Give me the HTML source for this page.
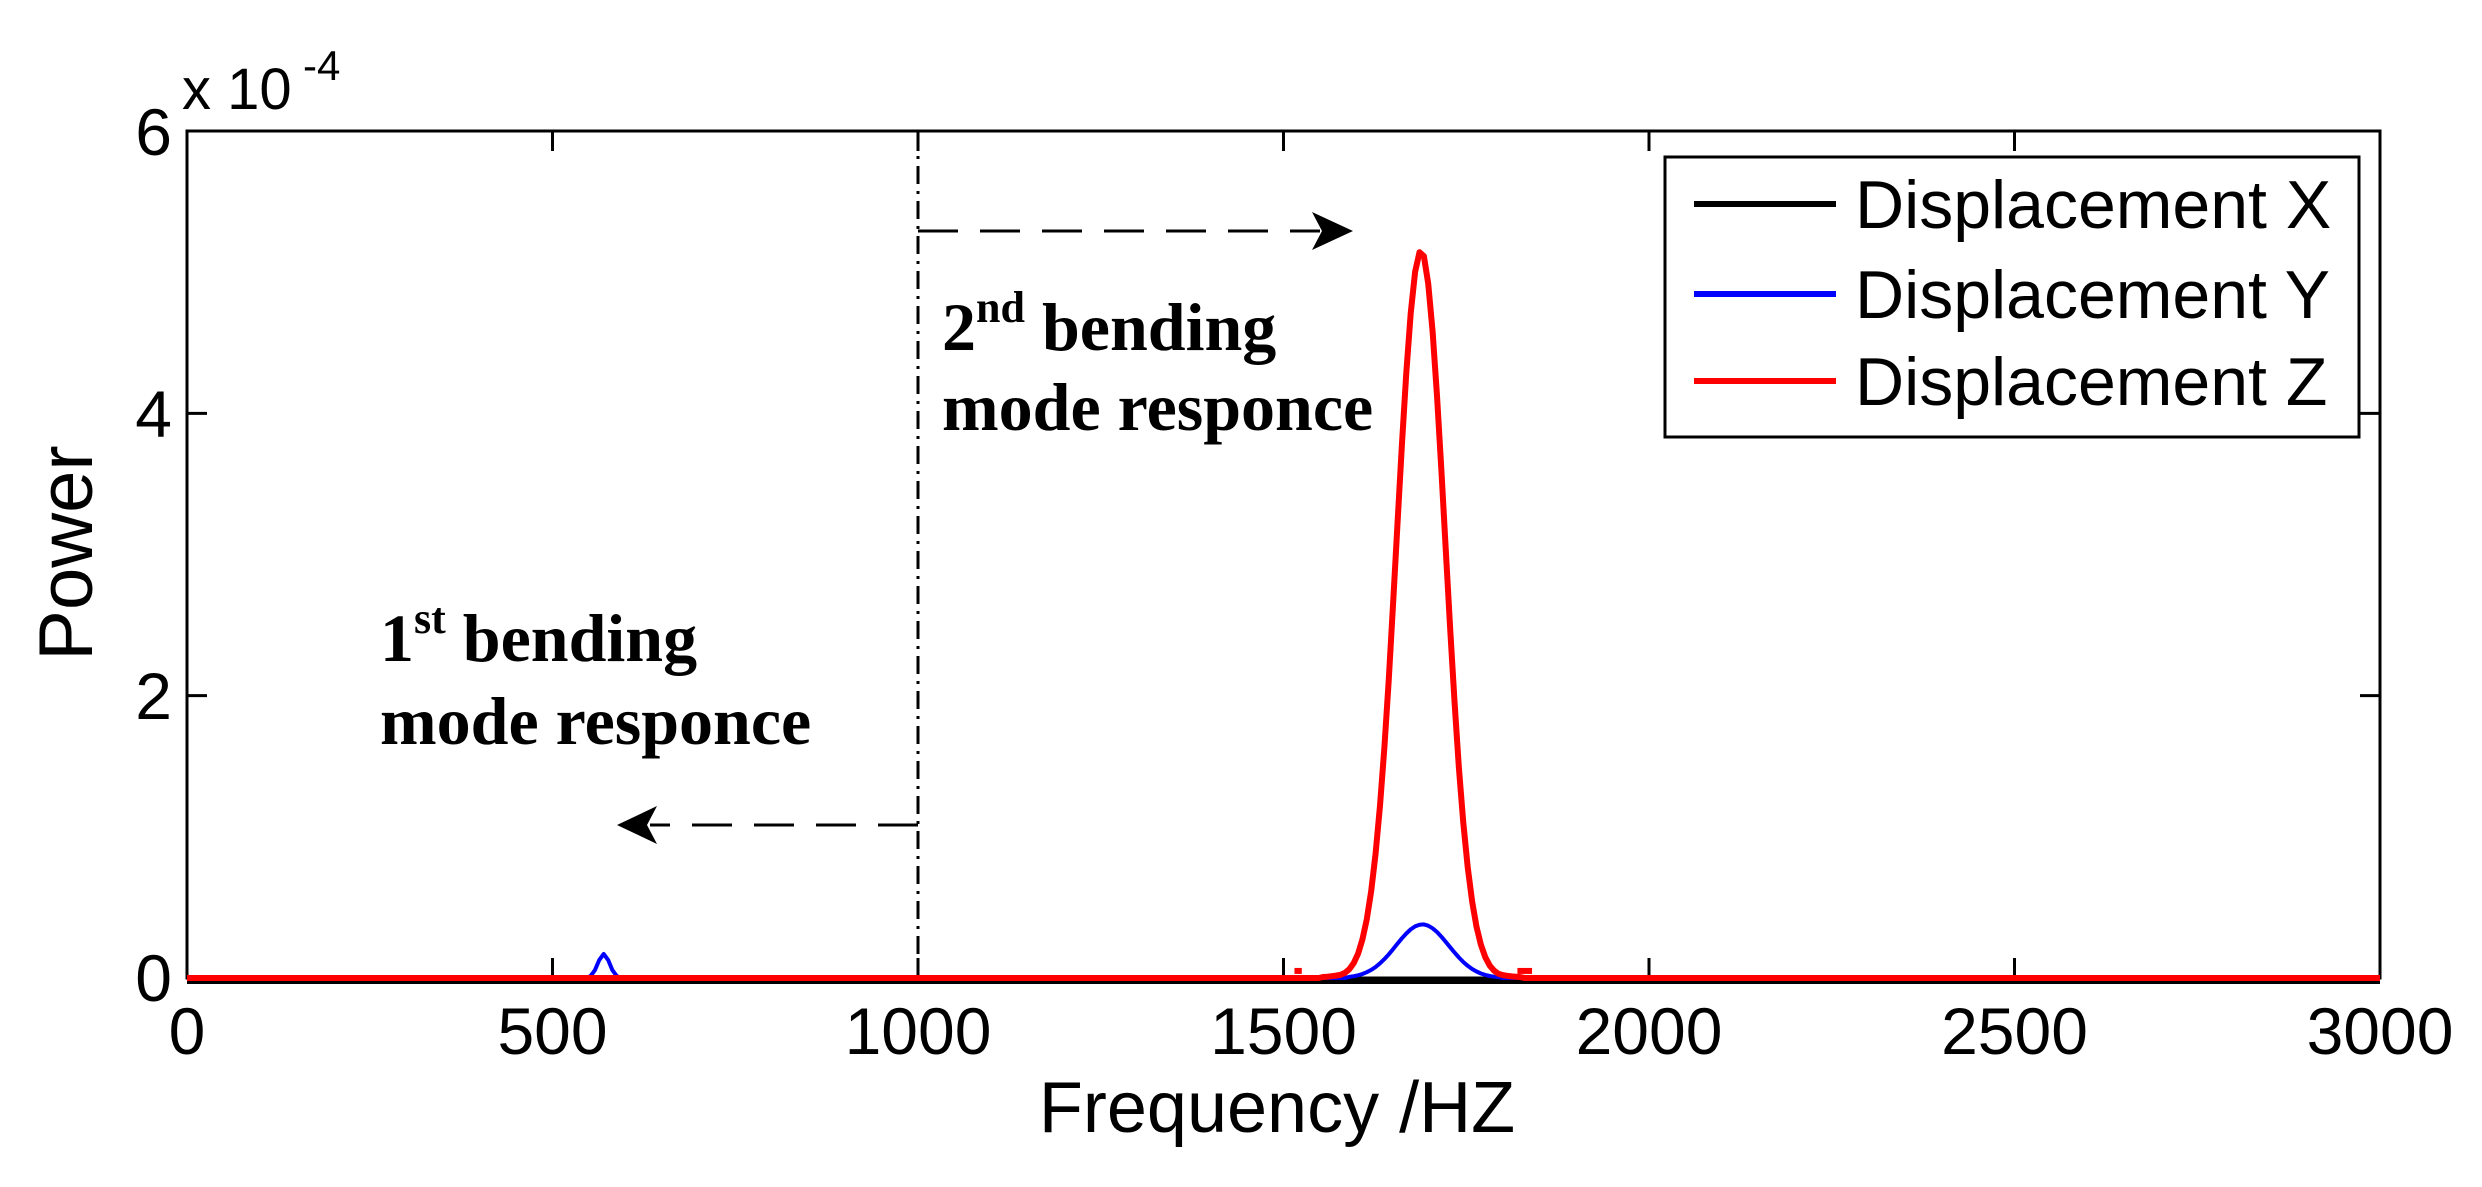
<!DOCTYPE html>
<html><head><meta charset="utf-8"><style>
html,body{margin:0;padding:0;background:#fff;}
svg{display:block;}
.t{font-family:"Liberation Sans",Arial,sans-serif;}
.s{font-family:"Liberation Serif","Times New Roman",serif;font-weight:bold;}
</style></head><body>
<svg id="c" width="2482" height="1187" viewBox="0 0 2482 1187" xmlns="http://www.w3.org/2000/svg">
<rect width="2482" height="1187" fill="#fff"/>
<rect x="187" y="131" width="2193" height="847" fill="none" stroke="#000" stroke-width="3"/>
<g stroke="#000" stroke-width="3">
<line x1="552.5" y1="978" x2="552.5" y2="958"/><line x1="918" y1="978" x2="918" y2="958"/><line x1="1283.5" y1="978" x2="1283.5" y2="958"/><line x1="1649" y1="978" x2="1649" y2="958"/><line x1="2014.5" y1="978" x2="2014.5" y2="958"/>
<line x1="552.5" y1="131" x2="552.5" y2="151"/><line x1="918" y1="131" x2="918" y2="151"/><line x1="1283.5" y1="131" x2="1283.5" y2="151"/><line x1="1649" y1="131" x2="1649" y2="151"/><line x1="2014.5" y1="131" x2="2014.5" y2="151"/>
<line x1="187" y1="695.6" x2="207" y2="695.6"/><line x1="187" y1="413.4" x2="207" y2="413.4"/>
<line x1="2380" y1="695.6" x2="2360" y2="695.6"/><line x1="2380" y1="413.4" x2="2360" y2="413.4"/>
</g>
<g class="t" font-size="66" fill="#000" text-anchor="middle">
<text x="187" y="1054">0</text><text x="552.5" y="1054">500</text><text x="918" y="1054">1000</text><text x="1283.5" y="1054">1500</text><text x="1649" y="1054">2000</text><text x="2014.5" y="1054">2500</text><text x="2380" y="1054">3000</text>
</g>
<g class="t" font-size="66" fill="#000" text-anchor="end">
<text x="172" y="1001">0</text><text x="172" y="719">2</text><text x="172" y="437">4</text><text x="172" y="155">6</text>
</g>
<text class="t" x="182" y="109" font-size="58">x 10</text>
<text class="t" x="303" y="80" font-size="42">-4</text>
<text class="t" x="1277" y="1132" font-size="72" text-anchor="middle">Frequency /HZ</text>
<text class="t" font-size="76" text-anchor="middle" transform="translate(92,553) rotate(-90)">Power</text>

<line x1="918" y1="131" x2="918" y2="978" stroke="#000" stroke-width="3" stroke-dasharray="18,7,3,7"/>
<line x1="918" y1="231" x2="1320" y2="231" stroke="#000" stroke-width="3" stroke-dasharray="40,22"/>
<path d="M1312,212 L1353,231 L1312,250 L1322,231 Z" fill="#000"/>
<line x1="918" y1="825" x2="650" y2="825" stroke="#000" stroke-width="3" stroke-dasharray="40,22"/>
<path d="M657,806 L617,825 L657,844 L647,825 Z" fill="#000"/>

<g class="s" font-size="68" fill="#000">
<text x="942" y="350">2<tspan font-size="44" dy="-28">nd</tspan><tspan dy="28"> bending</tspan></text>
<text x="942" y="430">mode responce</text>
<text x="380" y="661">1<tspan font-size="44" dy="-28">st</tspan><tspan dy="28"> bending</tspan></text>
<text x="380" y="744">mode responce</text>
</g>

<g id="curves"></g>

<rect x="1665" y="157" width="694" height="280" fill="#fff" stroke="#000" stroke-width="3"/>
<line x1="1694" y1="204" x2="1836" y2="204" stroke="#000" stroke-width="6"/>
<line x1="1694" y1="294" x2="1836" y2="294" stroke="#0000ff" stroke-width="6"/>
<line x1="1694" y1="381" x2="1836" y2="381" stroke="#ff0000" stroke-width="6"/>
<g class="t" font-size="68" fill="#000">
<text x="1855" y="228">Displacement X</text>
<text x="1855" y="318">Displacement Y</text>
<text x="1855" y="405">Displacement Z</text>
</g>
</svg>
<script>
(function(){
var g=document.getElementById('curves');
function X(f){return 187+f*0.731;}
function Y(v){return 978-v*141.2;}
function path(fn,a,b,step){var d='';for(var f=a;f<=b;f+=step){d+=(f===a?'M':'L')+X(f).toFixed(1)+','+Y(fn(f)).toFixed(1);}return d;}
function gs(c,s,h){return function(f){var v=h*Math.exp(-(f-c)*(f-c)/(2*s*s));return v<0.005?0:v;};}
var ns='http://www.w3.org/2000/svg';
function add(d,col,w){var p=document.createElementNS(ns,'path');p.setAttribute('d',d);p.setAttribute('fill','none');p.setAttribute('stroke',col);p.setAttribute('stroke-width',w);p.setAttribute('stroke-linejoin','round');g.appendChild(p);}
add('M187,981 L2380,981','#000',6);
var by=function(f){return gs(1690,36,0.38)(f)+gs(570,8,0.17)(f);};
add(path(by,0,3000,6),'#0000ff',4);
var rz=function(f){var a=gs(1688,33,5.15)(f);var b=gs(1688,50,0.25)(f);return Math.max(a,b);};
add(path(rz,0,3000,6),'#ff0000',6);
add('M'+X(1515)+','+Y(0.05)+' L'+X(1525)+','+Y(0.05),'#ff0000',6);
add('M'+X(1820)+','+Y(0.05)+' L'+X(1840)+','+Y(0.05),'#ff0000',6);
})();
</script>
</body></html>
